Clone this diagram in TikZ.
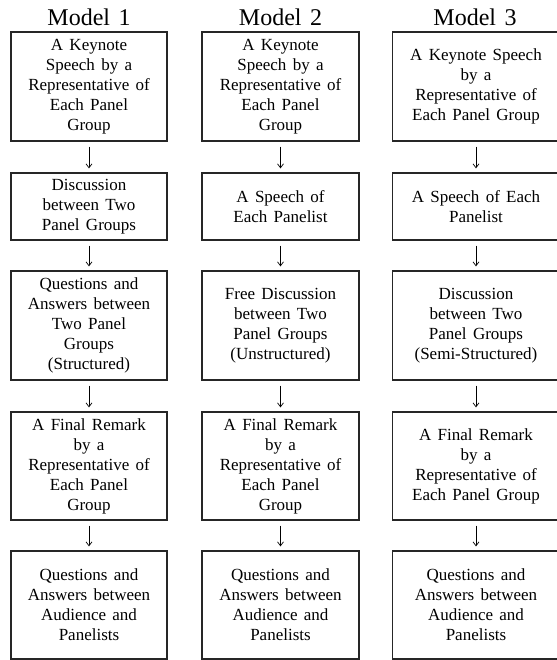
\documentclass[tikz,border=0pt]{standalone}
\usepackage{fontspec}
\setmainfont{Liberation Serif}
\usepackage{tikz}
\usetikzlibrary{arrows.meta}
\tikzset{
  box/.style={draw=black!85, line width=1.2pt, align=center, inner sep=0pt,
    minimum width=156pt, minimum height=109pt, font=\fontsize{17}{20}\selectfont,
    execute at begin node={\spaceskip=0.37em\relax}},
  title/.style={anchor=base, font=\fontsize{24}{28}\selectfont,
    execute at begin node={\spaceskip=0.35em\relax}},
  flow/.style={-{Straight Barb[length=4pt,width=6pt]}, line width=0.7pt,
    shorten <=5pt, shorten >=4pt}
}

\begin{document}
\begin{tikzpicture}[x=1pt,y=-1pt]
	\useasboundingbox (0,0) rectangle (556,660);
	\node[title] (T1) at (89,26) {Model 1};
	\node[title] (T2) at (280.5,26) {Model 2};
	\node[title] (T3) at (475,26) {Model 3};
	\node[box] (A1) at (89,86.5) {A Keynote\\Speech by a\\Representative of\\Each Panel\\Group};
	\node[box,minimum height=67pt] (A2) at (89,206.5) {Discussion\\between Two\\Panel Groups};
	\node[box] (A3) at (89,325.5) {Questions and\\Answers between\\Two Panel\\Groups\\(Structured)};
	\node[box,minimum height=108pt] (A4) at (89,466) {A Final Remark\\by a\\Representative of\\Each Panel\\Group};
	\node[box,minimum height=108pt] (A5) at (89,605) {Questions and\\Answers between\\Audience and\\Panelists};
	\node[box,minimum width=157pt] (B1) at (280.5,86.5) {A Keynote\\Speech by a\\Representative of\\Each Panel\\Group};
	\node[box,minimum width=157pt,minimum height=67pt] (B2) at (280.5,206.5) {A Speech of\\Each Panelist};
	\node[box,minimum width=157pt] (B3) at (280.5,325.5) {Free Discussion\\between Two\\Panel Groups\\(Unstructured)};
	\node[box,minimum width=157pt,minimum height=108pt] (B4) at (280.5,466) {A Final Remark\\by a\\Representative of\\Each Panel\\Group};
	\node[box,minimum width=157pt,minimum height=108pt] (B5) at (280.5,605) {Questions and\\Answers between\\Audience and\\Panelists};
	\node[box,minimum width=167pt] (C1) at (476,86.5) {A Keynote Speech\\by a\\Representative of\\Each Panel Group};
	\node[box,minimum width=167pt,minimum height=67pt] (C2) at (476,206.5) {A Speech of Each\\Panelist};
	\node[box,minimum width=167pt] (C3) at (476,325.5) {Discussion\\between Two\\Panel Groups\\(Semi-Structured)};
	\node[box,minimum width=167pt,minimum height=108pt] (C4) at (476,466) {A Final Remark\\by a\\Representative of\\Each Panel Group};
	\node[box,minimum width=167pt,minimum height=108pt] (C5) at (476,605) {Questions and\\Answers between\\Audience and\\Panelists};
	\path[flow] (A1) edge (A2) (A2) edge (A3) (A3) edge (A4) (A4) edge (A5);
	\path[flow] (B1) edge (B2) (B2) edge (B3) (B3) edge (B4) (B4) edge (B5);
	\path[flow] (C1) edge (C2) (C2) edge (C3) (C3) edge (C4) (C4) edge (C5);
\end{tikzpicture}
\end{document}
